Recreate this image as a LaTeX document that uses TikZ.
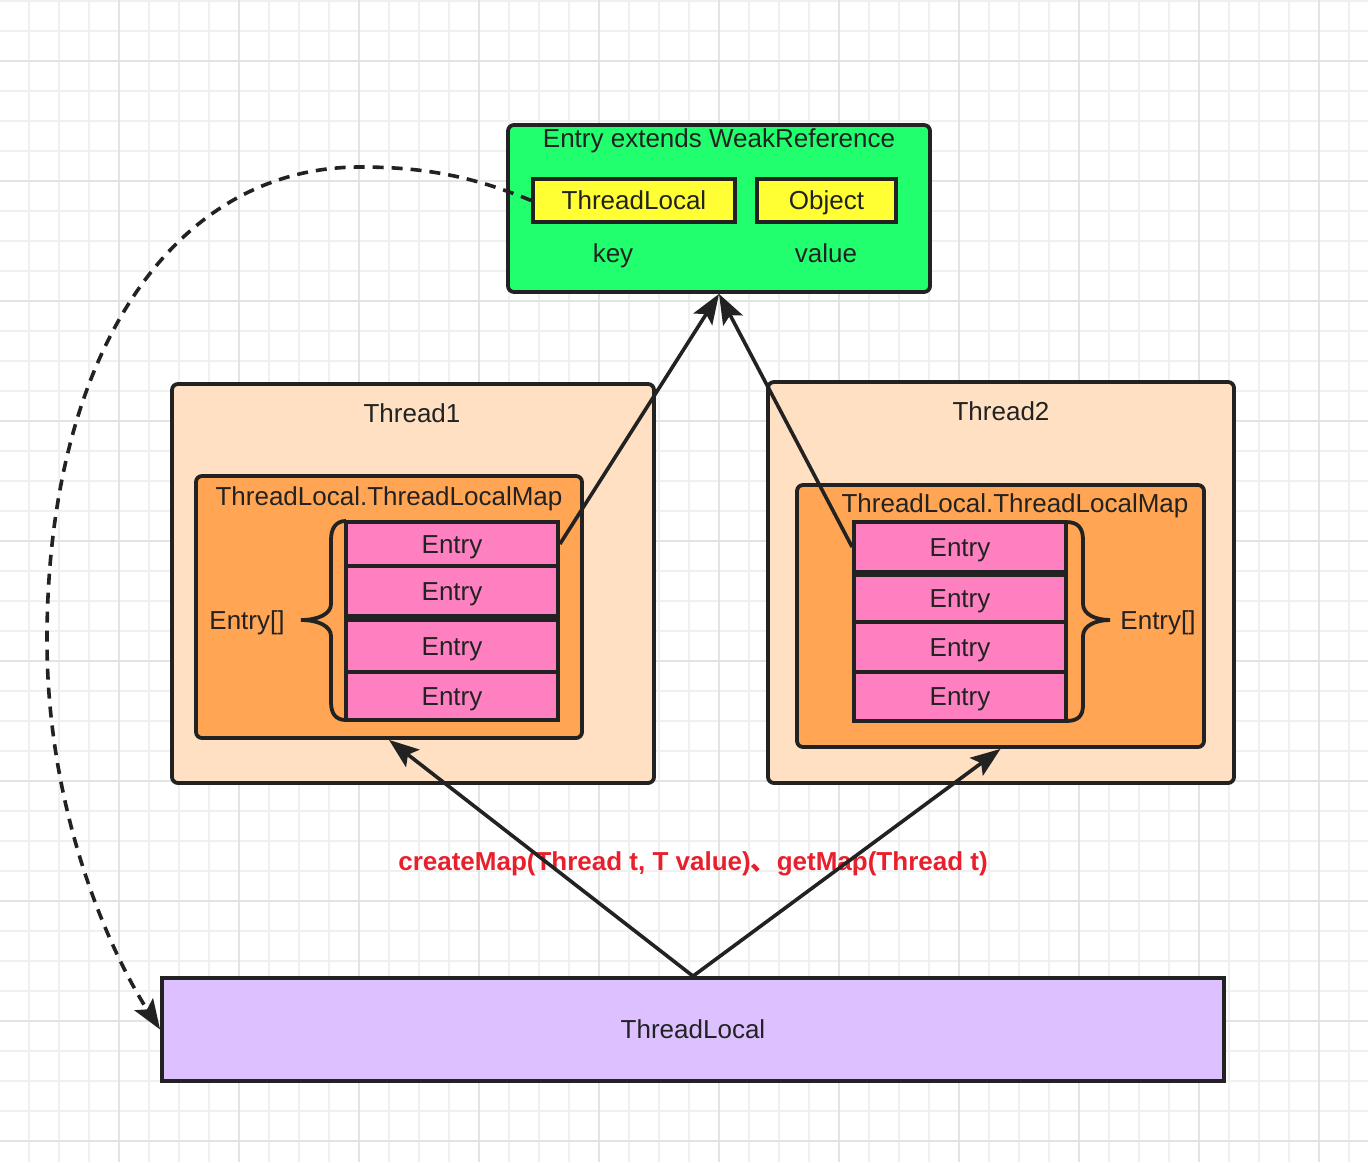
\documentclass[tikz,border=0pt]{standalone}
\usepackage{fontspec}
\setmainfont{Liberation Sans}
\newfontfamily\cjk{Noto Sans CJK SC}
\usetikzlibrary{arrows.meta}
\definecolor{gridminor}{HTML}{F0F0F0}
\definecolor{gridmajor}{HTML}{E3E3E3}
\definecolor{inkdark}{HTML}{222222}
\definecolor{weakgreen}{HTML}{22FF6E}
\definecolor{keyyellow}{HTML}{FFFF33}
\definecolor{threadpeach}{HTML}{FFE0C2}
\definecolor{maporange}{HTML}{FFA553}
\definecolor{entrypink}{HTML}{FF80C0}
\definecolor{tllavender}{HTML}{DDC0FF}
\definecolor{labelred}{HTML}{E8202D}
\begin{document}
\begin{tikzpicture}[x=0.5pt, y=-0.5pt,
    every node/.style={text=inkdark, font=\fontsize{13pt}{15pt}\selectfont, text height=9.3pt, text depth=0pt},
    box/.style={draw=inkdark, line width=1.9pt, rounded corners=3pt, inner sep=0pt},
    cell/.style={draw=inkdark, line width=1.9pt, inner sep=0pt},
    link/.style={draw=inkdark, line width=1.8pt, -{Stealth[length=15pt, width=11pt, inset=3pt]}},
    curly/.style={draw=inkdark, line width=1.9pt}]
    \useasboundingbox (0,0) rectangle (1368,1162);

    % Grid
    \fill[white] (0,0) rectangle (1368,1162);
    \foreach \gx in {29,59,...,1349}
        \draw[gridminor, line width=1pt] (\gx,0) -- (\gx,1162);
    \foreach \gy in {1,31,...,1141}
        \draw[gridminor, line width=1pt] (0,\gy) -- (1368,\gy);
    \foreach \gx in {119,239,...,1319}
        \draw[gridmajor, line width=1pt] (\gx,0) -- (\gx,1162);
    \foreach \gy in {61,181,...,1141}
        \draw[gridmajor, line width=1pt] (0,\gy) -- (1368,\gy);

    % Entry (top)
    \node[box, fill=weakgreen, minimum width=211pt, minimum height=83.5pt] (weak) at (719,208.5) {};
    \node (weaktitle) at (719,138) {Entry extends WeakReference};
    \node[cell, fill=keyyellow, minimum width=101pt, minimum height=21.5pt] (key) at (634,200.5) {ThreadLocal};
    \node[cell, fill=keyyellow, minimum width=69.5pt, minimum height=21.5pt] (obj) at (826.5,200.5) {Object};
    \node (keylbl) at (613,253) {key};
    \node (vallbl) at (826,253) {value};

    % Thread1
    \node[box, fill=threadpeach, minimum width=241pt, minimum height=199.5pt] (t1) at (413,583.5) {};
    \node (t1name) at (412,413) {Thread1};
    \node[box, fill=maporange, minimum width=193pt, minimum height=131pt] (m1) at (389,607) {};
    \node (m1name) at (389,496) {ThreadLocal.ThreadLocalMap};
    \foreach \cy/\ch [count=\i] in {544/22, 591/25, 646/26, 696/24}
        \node[cell, fill=entrypink, minimum width=106pt, minimum height=\ch pt] (e1\i) at (452,\cy) {Entry};
    \draw[curly] (346,521) .. controls (336,521) and (331,528) .. (331,540) -- (331,604)
        .. controls (331,614) and (318,620) .. (301,620) .. controls (318,620) and (331,626) .. (331,636)
        -- (331,702) .. controls (331,714) and (336,720) .. (346,720);
    \node (arr1) at (247,620) {Entry[]};

    % Thread2
    \node[box, fill=threadpeach, minimum width=233pt, minimum height=200.5pt] (t2) at (1001,582.5) {};
    \node (t2name) at (1001,411) {Thread2};
    \node[box, fill=maporange, minimum width=203.5pt, minimum height=131pt] (m2) at (1000.5,616) {};
    \node (m2name) at (1015,503) {ThreadLocal.ThreadLocalMap};
    \foreach \cy/\ch [count=\i] in {547/25, 598.5/23.5, 647/25, 696.5/24.5}
        \node[cell, fill=entrypink, minimum width=106pt, minimum height=\ch pt] (e2\i) at (960,\cy) {Entry};
    \draw[curly] (1066,522) .. controls (1078,522) and (1083,528) .. (1083,540) -- (1083,604)
        .. controls (1083,614) and (1095,620) .. (1110,620) .. controls (1095,620) and (1083,626) .. (1083,636)
        -- (1083,705) .. controls (1083,716) and (1078,721) .. (1066,721);
    \node (arr2) at (1158,620) {Entry[]};

    % ThreadLocal (bottom)
    \node[cell, fill=tllavender, minimum width=531pt, minimum height=51.5pt] (tl) at (693,1029.5) {ThreadLocal};
    \node[text=labelred, font=\fontsize{13pt}{15pt}\selectfont\bfseries] (calls) at (693,861)
        {createMap(Thread t, T value){\cjk 、}getMap(Thread t)};

    % Arrows
    \draw[link] (tl.north) -- (m1.south);
    \draw[link] (tl.north) -- (m2.south);
    \draw[link] (e11.east) -- (weak.south);
    \draw[link] (e21.west) -- (weak.south);
    \draw[link, dash pattern=on 5.5pt off 4pt] (key.west) .. controls (470,175) and (420,167) .. (360,167)
        .. controls (172,167) and (47,356) .. (47,640)
        .. controls (47,820) and (115,960) .. (tl.west);
\end{tikzpicture}
\end{document}
